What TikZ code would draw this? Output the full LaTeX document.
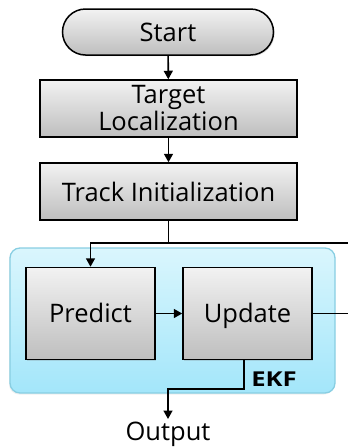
\documentclass[tikz,border=0pt]{standalone}
\usepackage{fontspec}
\usepackage{graphicx}
\setmainfont{Open Sans}
\usetikzlibrary{arrows.meta,shadows}
\definecolor{boxtop}{HTML}{F2F2F2}
\definecolor{boxbot}{HTML}{BEBEBE}
\definecolor{ekftop}{HTML}{DAF6FD}
\definecolor{ekfbot}{HTML}{A3E6FA}
\definecolor{ekfline}{HTML}{88CEE2}
\begin{document}
\begin{tikzpicture}[x=1pt,y=-1pt,
  txt/.style={font=\fontsize{25.5}{27}\selectfont},
  graybox/.style={txt, draw=black, line width=1.5pt, top color=boxtop, bottom color=boxbot,
    inner sep=0pt, align=center,
    drop shadow={shadow xshift=1.2pt, shadow yshift=-1.2pt, fill=black!60, opacity=0.2}},
  wide/.style={graybox, minimum width=257pt, minimum height=57pt},
  block/.style={graybox, minimum width=129pt, minimum height=92pt, text height=22pt, text depth=5pt},
  term/.style={graybox, minimum width=211pt, minimum height=46pt, rounded corners=23pt},
  group/.style={draw=ekfline, line width=1.3pt, rounded corners=10pt, top color=ekftop, bottom color=ekfbot,
    minimum width=325pt, minimum height=145pt, inner sep=0pt,
    drop shadow={shadow xshift=-1pt, shadow yshift=-1.5pt, fill=black!40, opacity=0.15}},
  ln/.style={draw=black, line width=1.6pt},
  arr/.style={ln, -{Triangle[length=8.5pt,width=9pt]}}]
\useasboundingbox (0,0) rectangle (348,448);

% EKF group background
\node[group] (ekf) at (172.5,320.5) {};
\node[font=\bfseries\fontsize{20.5}{21}\selectfont] (ekflbl) at (274,379) {\scalebox{1.25}[1]{EKF}};

% main blocks
\node[term] (start) at (168,32) {Start};
\node[wide] (tl) at (168.5,108.5) {Target\\Localization};
\node[wide] (ti) at (168.5,191.5) {Track Initialization};
\node[block] (pred) at (90.5,313.5) {Predict};
\node[block] (upd) at (247.5,313.5) {Update};
\node[txt, anchor=north, inner sep=3pt] (out) at (168,419) {Output};

% free line ends at the right border
\coordinate (fbR) at (348,243);
\coordinate (updR) at (348,313.5);

% connectors
\draw[arr] (start) -- (tl);
\draw[arr] (tl) -- (ti);
\draw[ln] (ti.south) -- (ti.south |- fbR) -- (fbR);
\draw[arr] (ti.south |- fbR) -| (pred.north);
\draw[arr] (pred) -- (upd);
\draw[ln] (upd.east) -- (updR);
\draw[arr] ([xshift=-3.5pt]upd.south) -- ++(0,29) -| (out.north);
\end{tikzpicture}
\end{document}
